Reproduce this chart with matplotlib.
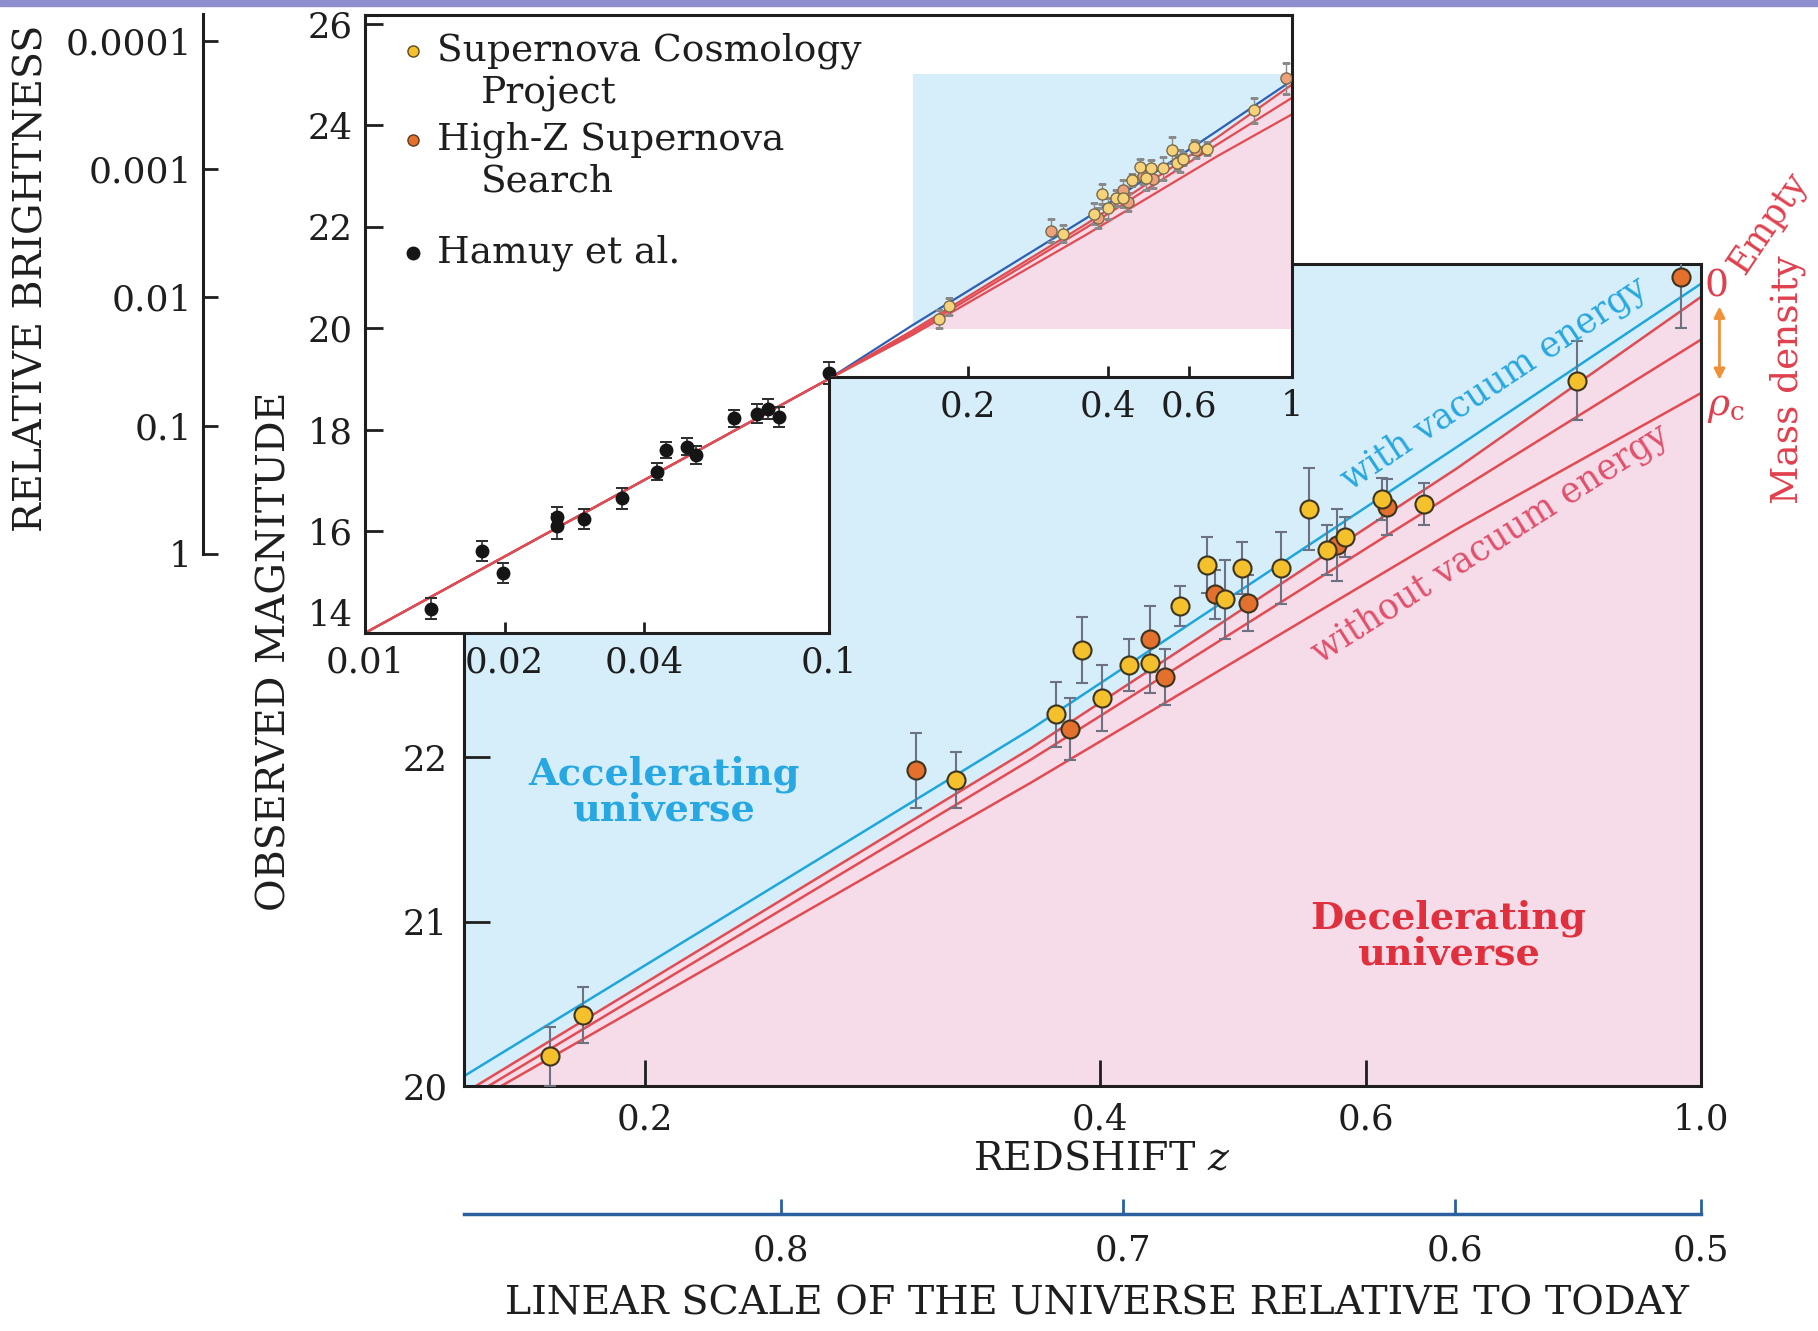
import numpy as np
import matplotlib.pyplot as plt
from matplotlib.patches import Polygon, Rectangle, FancyArrowPatch
from matplotlib.ticker import NullLocator

plt.rcParams['font.family'] = ['DejaVu Serif']
plt.rcParams['mathtext.fontset'] = 'dejavuserif'

# --- data ----------------------------------------------------------------
# Supernova Cosmology Project (yellow)
scp_z = [0.173, 0.182, 0.321, 0.374, 0.389, 0.401, 0.418, 0.432, 0.452, 0.471,
         0.484, 0.497, 0.527, 0.550, 0.565, 0.581, 0.615, 0.656, 0.828]
scp_m = [20.18, 20.43, 21.86, 22.26, 22.65, 22.36, 22.56, 22.57, 22.92, 23.17,
         22.96, 23.15, 23.15, 23.51, 23.26, 23.34, 23.57, 23.54, 24.29]
scp_err = [0.18, 0.17, 0.17, 0.20, 0.20, 0.20, 0.16, 0.18, 0.12, 0.17,
           0.24, 0.16, 0.22, 0.25, 0.15, 0.12, 0.13, 0.13, 0.24]

# High-Z Supernova Search (orange)
hzs_z = [0.302, 0.382, 0.432, 0.442, 0.477, 0.501, 0.574, 0.620, 0.970]
hzs_m = [21.92, 22.17, 22.72, 22.49, 22.99, 22.94, 23.29, 23.52, 24.92]
hzs_err = [0.23, 0.19, 0.20, 0.17, 0.15, 0.17, 0.22, 0.17, 0.31]

# Hamuy et al. (black, low redshift)
hamuy_z = [0.0139, 0.0179, 0.0198, 0.0259, 0.0259, 0.0297, 0.0358, 0.0427,
           0.0446, 0.0496, 0.0517, 0.0625, 0.0701, 0.0741, 0.0783, 0.100]
hamuy_m = [14.48, 15.61, 15.18, 16.29, 16.10, 16.25, 16.65, 17.18,
           17.60, 17.67, 17.50, 18.23, 18.32, 18.41, 18.25, 19.12]
hamuy_err = [0.20, 0.20, 0.20, 0.20, 0.25, 0.20, 0.20, 0.17,
             0.16, 0.17, 0.18, 0.17, 0.19, 0.20, 0.20, 0.22]

# model curves
model_z = [0.01, 0.1, 0.1517, 0.36, 0.69, 1.0]
with_vac_m = [14.0, 19.0, 20.06, 22.17, 23.89, 24.88]
empty_m = [14.0, 19.0, 19.956, 22.055, 23.76, 24.80]
half_m = [14.0, 19.0, 19.91, 21.985, 23.62, 24.54]
crit_m = [14.0, 19.0, 19.87, 21.845, 23.39, 24.215]

brightness_ticks = [1e-4, 1e-3, 1e-2, 1e-1, 1]
brightness_labels = ['0.0001', '0.001', '0.01', '0.1', '1']
scale_labels = ['0.8', '0.7', '0.6', '0.5']
scale_tick_z = [0.246, 0.414, 0.687, 1.0]

# --- colours / sizes -------------------------------------------------------
BLUE_BG = '#d6eefa'
PINK_BG = '#f6dbe8'
CYAN = '#1ea6dd'
RED = '#e24b52'
YELLOW = '#f4c02c'
ORANGE = '#e3702d'
INK = '#1e1e1e'
FS_TICK = 25.5
FS_LAB = 28.5

W, H = 1818, 1331
fig = plt.figure(figsize=(W / 100, H / 100), dpi=100)


def box(x0, y0, x1, y1):
    return [x0 / W, 1 - y1 / H, (x1 - x0) / W, (y1 - y0) / H]


fig.patches.append(Rectangle((0, 1 - 6 / H), 1, 6 / H, transform=fig.transFigure,
                             color='#8d8dcf', zorder=10))

# --- main panel ------------------------------------------------------------
ax = fig.add_axes(box(464, 264, 1701, 1086))
ax.set_xscale('log')
ax.set_xlim(0.1517, 1.0)
ax.set_ylim(20, 25)
ax.set_facecolor(BLUE_BG)
ax.fill_between(model_z, 15, empty_m, color=PINK_BG, lw=0, zorder=0.5)
ax.plot(model_z, with_vac_m, color=CYAN, lw=1.8, zorder=2)
for m in (empty_m, half_m, crit_m):
    ax.plot(model_z, m, color=RED, lw=1.8, zorder=2)

kw = dict(fmt='o', ms=13, mew=1.5, mec='#3d3420', ecolor='#6c7282',
          elinewidth=1.5, capsize=4.5, capthick=1.5, zorder=3)
ax.errorbar(hzs_z, hzs_m, yerr=hzs_err, mfc=ORANGE, **kw)
ax.errorbar(scp_z, scp_m, yerr=scp_err, mfc=YELLOW, **kw)

ax.set_xticks([0.2, 0.4, 0.6, 1.0], labels=['0.2', '0.4', '0.6', '1.0'])
ax.xaxis.set_minor_locator(NullLocator())
ax.set_yticks([20, 21, 22])
ax.tick_params(direction='in', length=19, width=2, labelsize=FS_TICK, pad=12,
               color=INK, labelcolor=INK)
for s in ax.spines.values():
    s.set_linewidth(2.2)
    s.set_color(INK)

ax.text(0.730, 24.27, 'with vacuum energy', color='#27a7e0', fontsize=25,
        rotation=33.5, ha='center', va='center', rotation_mode='anchor', zorder=4)
ax.text(0.725, 23.30, 'without vacuum energy', color='#e0506c', fontsize=25,
        rotation=32.5, ha='center', va='center', rotation_mode='anchor', zorder=4)
ax.text(0.2057, 21.79, 'Accelerating\nuniverse', color='#27a8e2', fontsize=27.5,
        fontweight='bold', ha='center', va='center', linespacing=0.95)
ax.text(0.680, 20.91, 'Decelerating\nuniverse', color='#e0303e', fontsize=27.5,
        fontweight='bold', ha='center', va='center', linespacing=0.95)

# scale factor axis below
sec_s = ax.secondary_xaxis(-0.1557)
sec_s.set_xticks(scale_tick_z, labels=scale_labels)
sec_s.xaxis.set_minor_locator(NullLocator())
sec_s.spines['bottom'].set_color('#2b5f9e')
sec_s.spines['bottom'].set_linewidth(2.5)
sec_s.tick_params(direction='in', length=11, width=2, color='#2b5f9e',
                  labelsize=FS_TICK, pad=14, labelcolor=INK)
sec_s.tick_params(which='minor', length=0)

fig.text(950 / 1568, 1 - 1000 / 1148, 'REDSHIFT $z$', fontsize=FS_LAB,
         ha='center', va='center', color=INK)
fig.text(946 / 1568, 1 - 1125 / 1148, 'LINEAR SCALE OF THE UNIVERSE RELATIVE TO TODAY',
         fontsize=FS_LAB, ha='center', va='center', color=INK)
fig.text(237 / 1568, 1 - 562 / 1148, 'OBSERVED MAGNITUDE', fontsize=FS_LAB,
         rotation=90, ha='center', va='center', color=INK)
fig.text(28 / 1568, 1 - 240 / 1148, 'RELATIVE BRIGHTNESS', fontsize=FS_LAB,
         rotation=90, ha='center', va='center', color=INK)

# right-hand mass density labels
RLAB = '#e0404e'
fig.text(1480 / 1568, 1 - 247 / 1148, '0', fontsize=27, color=RLAB,
         ha='center', va='center')
fig.text(1504 / 1568, 1 - 238 / 1148, 'Empty', fontsize=25, color=RLAB,
         rotation=56, ha='left', va='baseline', rotation_mode='anchor')
fig.text(1489 / 1568, 1 - 351 / 1148, r'$\rho_\mathrm{c}$', fontsize=27,
         color=RLAB, ha='center', va='center')
fig.text(1542 / 1568, 1 - 327 / 1148, 'Mass density', fontsize=27, color=RLAB,
         rotation=90, ha='center', va='center')
fig.patches.append(FancyArrowPatch((1483 / 1568, 1 - 262 / 1148),
                                   (1483 / 1568, 1 - 330 / 1148),
                                   transform=fig.transFigure, arrowstyle='<|-|>',
                                   mutation_scale=16, color='#f0913a', lw=2))

# --- inset -----------------------------------------------------------------
step_m = 19.05
ax_in = fig.add_axes(box(365, 15, 1292, 633))
ax_in.set_xscale('log')
ax_in.set_xlim(0.01, 1.0)
ax_in.set_ylim(14, 26.17)
ax_in.set_facecolor('none')
top = ax_in.get_ylim()[1]
shape = Polygon([(0.01, 14), (0.1, 14), (0.1, step_m), (1.0, step_m), (1.0, top), (0.01, top)],
                closed=True, transform=ax_in.transData, fc='white', ec='none', zorder=0)
ax_in.add_patch(shape)

z0, z1 = ax.get_xlim()
m0, m1 = ax.get_ylim()
zr = [z for z in model_z if z >= z0]
lo = np.clip([m for z, m in zip(model_z, empty_m) if z >= z0], m0, m1)
ax_in.fill_between(zr, m0, lo, color=PINK_BG, lw=0, zorder=0.5)
ax_in.fill_between(zr, lo, m1, color=BLUE_BG, lw=0, zorder=0.5)

ax_in.plot(model_z, with_vac_m, color='#2d5fb5', lw=1.6, zorder=2)
for m in (empty_m, half_m, crit_m):
    ax_in.plot(model_z, m, color=RED, lw=1.6, zorder=2)

kin = dict(fmt='o', ms=8, mew=1.0, mec='#7a6a4a', ecolor='#8a8a8a',
           elinewidth=1.0, capsize=3, capthick=1.0, zorder=3)
ax_in.errorbar(hzs_z, hzs_m, yerr=hzs_err, mfc='#eea27c', **kin)
ax_in.errorbar(scp_z, scp_m, yerr=scp_err, mfc='#f6d27a', **kin)
ax_in.errorbar(hamuy_z, hamuy_m, yerr=hamuy_err, fmt='o', ms=9, mfc='#151515',
               mec='#151515', ecolor='#303030', elinewidth=1.2, capsize=4,
               capthick=1.2, zorder=3)
for art in ax_in.lines + ax_in.collections:
    art.set_clip_path(shape)

ax_in.spines['right'].set_bounds(step_m, top)
ax_in.spines['bottom'].set_bounds(0.01, 0.1)
for s in ax_in.spines.values():
    s.set_linewidth(2.2)
    s.set_color(INK)
ax_in.plot([0.1, 0.1], [14, step_m], color=INK, lw=2.2, clip_on=False,
           solid_capstyle='projecting', zorder=4)

ax_in.set_yticks([14, 16, 18, 20, 22, 24, 26])
ax_in.set_xticks([0.01, 0.02, 0.04, 0.1], labels=['0.01', '0.02', '0.04', '0.1'])
ax_in.xaxis.set_minor_locator(NullLocator())
ax_in.tick_params(axis='y', direction='in', length=13, width=2, labelsize=FS_TICK,
                  pad=9, color=INK, labelcolor=INK)
ax_in.tick_params(axis='x', direction='in', length=8, width=2, labelsize=FS_TICK,
                  pad=9, color=INK, labelcolor=INK)
# the "14" label sits above the corner so it clears "0.01"
ax_in.yaxis.get_major_ticks()[0].label1.set_va('bottom')

sec_in = ax_in.secondary_xaxis((step_m - 14) / (top - 14))
sec_in.set_xticks([0.2, 0.4, 0.6, 1.0], labels=['0.2', '0.4', '0.6', '1'])
sec_in.xaxis.set_minor_locator(NullLocator())
sec_in.spines['bottom'].set_bounds(0.1, 1.0)
sec_in.spines['bottom'].set_linewidth(2.2)
sec_in.spines['bottom'].set_color(INK)
sec_in.tick_params(direction='in', length=8, width=2, labelsize=FS_TICK, pad=9,
                   color=INK, labelcolor=INK)
sec_in.tick_params(which='minor', length=0)

# legend drawn by hand (marker sits on the first line of each entry)
leg_x, txt_x, ind_x = 0.0514, 0.0777, 0.1253
ax_in.plot([leg_x], [0.9418], 'o', ms=8, mfc=YELLOW, mec='#5a4a20', mew=1,
           transform=ax_in.transAxes, zorder=5)
ax_in.plot([leg_x], [0.7974], 'o', ms=8, mfc=ORANGE, mec='#5a3a20', mew=1,
           transform=ax_in.transAxes, zorder=5)
ax_in.plot([leg_x], [0.6154], 'o', ms=9, mfc='#151515', mec='#151515',
           transform=ax_in.transAxes, zorder=5)
for x, y, t in [(txt_x, 0.9418, 'Supernova Cosmology'), (ind_x, 0.8724, 'Project'),
                (txt_x, 0.7974, 'High-Z Supernova'), (ind_x, 0.7298, 'Search'),
                (txt_x, 0.6154, 'Hamuy et al.')]:
    ax_in.text(x, y, t, transform=ax_in.transAxes, fontsize=27, color=INK,
               ha='left', va='center', zorder=5)

# --- relative brightness scale ---------------------------------------------
ax_b = fig.add_axes(box(203, 14, 213, 554))
ax_b.set_yscale('log')
ax_b.set_ylim(1, 10 ** -4.207)
ax_b.patch.set_visible(False)
for s in ('top', 'right', 'bottom'):
    ax_b.spines[s].set_visible(False)
ax_b.spines['left'].set_linewidth(2.2)
ax_b.spines['left'].set_color(INK)
ax_b.set_xticks([])
ax_b.set_yticks(brightness_ticks, labels=brightness_labels)
ax_b.yaxis.set_minor_locator(NullLocator())
ax_b.tick_params(axis='y', direction='in', length=11, width=2, labelsize=26,
                 pad=8, color=INK, labelcolor=INK)

fig.savefig('out.png', dpi=100)
